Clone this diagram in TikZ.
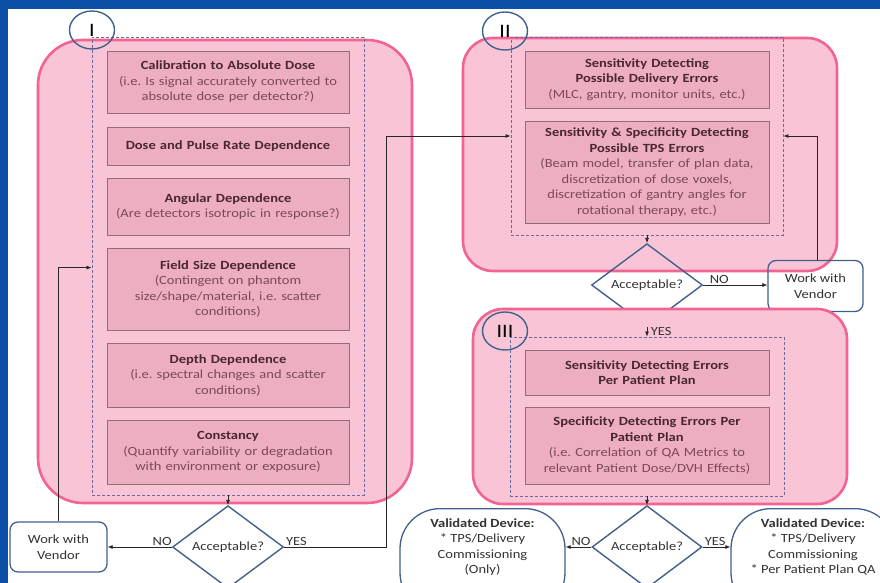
\documentclass[tikz,border=0pt]{standalone}
\usepackage{fontspec}
\setmainfont{Carlito}[FakeStretch=1.16]
\usetikzlibrary{shapes.geometric,arrows.meta,calc}
\definecolor{bgblue}{HTML}{0B4FA6}
\definecolor{pinkfill}{HTML}{F9C5D6}
\definecolor{pinkline}{HTML}{F2638F}
\definecolor{boxfill}{HTML}{EDAEC2}
\definecolor{boxline}{HTML}{8F6E76}
\definecolor{dashcol}{HTML}{6B6A9C}
\definecolor{navy}{HTML}{40608E}
\definecolor{titlecol}{HTML}{4A2730}
\definecolor{subcol}{HTML}{7B4A55}
\definecolor{txtgray}{HTML}{333333}
\tikzset{
  basefont/.style={font=\fontsize{12.5}{15.5}\selectfont},
  group/.style={draw=pinkline, line width=2.6pt, fill=pinkfill, inner sep=0pt},
  dashbox/.style={draw=dashcol, line width=0.9pt, dash pattern=on 3pt off 2pt, inner sep=0pt},
  innerbox/.style={draw=boxline, line width=0.8pt, fill=boxfill, inner sep=0pt,
    text width=236pt, align=center, basefont, text=subcol},
  roman/.style={draw=navy, line width=1.4pt, ellipse, inner sep=0pt,
    minimum width=45pt, minimum height=38pt, font=\fontsize{19}{19}\selectfont, text=black},
  decision/.style={draw=navy, line width=1.4pt, diamond, inner sep=0pt, basefont, text=txtgray},
  vendor/.style={draw=navy, line width=1.3pt, rounded corners=8pt, inner sep=0pt,
    align=center, basefont, text=txtgray},
  validbox/.style={draw=navy, line width=1.3pt, rounded corners=40pt, inner sep=0pt},
  validtext/.style={align=center, basefont, text=txtgray, inner sep=0pt},
  arr/.style={draw=black!85, line width=0.7pt, -{Latex[length=5pt,width=4pt]}},
  lbl/.style={basefont, text=txtgray, inner sep=1.5pt}
}
\newcommand{\ttl}[1]{\textbf{\color{titlecol}#1}}
\begin{document}
\frenchspacing
\begin{tikzpicture}[x=1pt,y=-1pt]
\useasboundingbox (0,0) rectangle (880,583);
\clip (0,0) rectangle (880,583);
\fill[bgblue] (0,0) rectangle (880,583);
\fill[white] (8,9) rectangle (880,583);

% ---------- Group I ----------
\node[group, rounded corners=45pt, minimum width=374pt, minimum height=463pt] (g1) at (225,271.5) {};
\node[dashbox, minimum width=272pt, minimum height=458pt] (dash1) at (228,266) {};
\node[innerbox, minimum width=242pt, minimum height=62pt] (b11) at (228,82)
  {\ttl{Calibration to Absolute Dose}\\(i.e. Is signal accurately converted to\\absolute dose per detector?)};
\node[innerbox, minimum width=242pt, minimum height=38pt] (b12) at (228,146)
  {\ttl{Dose and Pulse Rate Dependence}};
\node[innerbox, minimum width=242pt, minimum height=57pt] (b13) at (228,206.5)
  {\ttl{Angular Dependence}\\(Are detectors isotropic in response?)};
\node[innerbox, minimum width=242pt, minimum height=82pt] (b14) at (228,289)
  {\ttl{Field Size Dependence}\\(Contingent on phantom\\size/shape/material, i.e. scatter\\conditions)};
\node[innerbox, minimum width=242pt, minimum height=64pt] (b15) at (228,375)
  {\ttl{Depth Dependence}\\(i.e. spectral changes and scatter\\conditions)};
\node[innerbox, minimum width=242pt, minimum height=64pt] (b16) at (228,452)
  {\ttl{Constancy}\\(Quantify variability or degradation\\with environment or exposure)};
\node[roman] (c1) at (92,30) {\raisebox{-2pt}{I}};

\node[decision, minimum width=111pt, minimum height=63pt] (d1) at (228,547) {Acceptable?};
\node[vendor, minimum width=97pt, minimum height=50pt] (wv1) at (58.5,547) {Work with\\Vendor};

% ---------- Group II ----------
\node[group, rounded corners=30pt, minimum width=374pt, minimum height=233pt] (g2) at (650,154.5) {};
\node[dashbox, minimum width=272pt, minimum height=198pt] (dash2) at (647,136) {};
\node[innerbox, minimum width=244pt, minimum height=57pt] (b21) at (647,79.5)
  {\ttl{Sensitivity Detecting}\\\ttl{Possible Delivery Errors}\\(MLC, gantry, monitor units, etc.)};
\node[innerbox, minimum width=244pt, minimum height=102pt] (b22) at (647,172)
  {\ttl{Sensitivity \& Specificity Detecting}\\\ttl{Possible TPS Errors}\\(Beam model, transfer of plan data,\\discretization of dose voxels,\\discretization of gantry angles for\\rotational therapy, etc.)};
\node[roman] (c2) at (505,31) {\raisebox{-2pt}{II}};

\node[decision, minimum width=111pt, minimum height=62pt] (d2) at (647,285) {Acceptable?};
\node[vendor, minimum width=95pt, minimum height=51pt] (wv2) at (815.5,286) {Work with\\Vendor};

% ---------- Group III ----------
\node[group, rounded corners=30pt, minimum width=374pt, minimum height=195pt] (g3) at (660,406.5) {};
\node[dashbox, minimum width=274pt, minimum height=159pt] (dash3) at (647,416.5) {};
\node[innerbox, minimum width=244pt, minimum height=45pt] (b31) at (647,372.5)
  {\ttl{Sensitivity Detecting Errors}\\\ttl{Per Patient Plan}};
\node[innerbox, minimum width=244pt, minimum height=77pt] (b32) at (647,445.5)
  {\ttl{Specificity Detecting Errors Per}\\\ttl{Patient Plan}\\(i.e. Correlation of QA Metrics to\\relevant Patient Dose/DVH Effects)};
\node[roman] (c3) at (505,331) {\raisebox{-1pt}{III}};

\node[decision, minimum width=110pt, minimum height=62pt] (d3) at (647,547) {Acceptable?};
\node[validbox, minimum width=165pt, minimum height=104pt, anchor=north] (v1) at (482.5,508) {};
\node[validtext] (v1t) at (482.5,547)
  {\textbf{Validated Device:}\\* TPS/Delivery\\Commissioning\\(Only)};
\node[validbox, minimum width=164pt, minimum height=104pt, anchor=north] (v2) at (813,508) {};
\node[validtext] (v2t) at (813,547)
  {\textbf{Validated Device:}\\* TPS/Delivery\\Commissioning\\* Per Patient Plan QA};

% ---------- Connectors ----------
\draw[arr] (dash1.south) -- (d1.north);
\draw[arr] (d1.west) -- node[lbl, above, pos=0.15] {NO} (wv1.east);
\draw[arr] (wv1.north) |- ($(dash1.west |- b14.north)+(0,20)$);
\draw[arr] (d1.east) -- node[lbl, above, pos=0.12] {YES} ++(102,0) |- (dash2.west);

\draw[arr] (dash2.south) -- (d2.north);
\draw[arr] (d2.east) -- node[lbl, above, pos=0.25] {NO} (d2.east -| wv2.west);
\draw[arr] ([xshift=1.5pt]wv2.north) |- (dash2.east);
\draw[arr] (d2.south) -- node[lbl, right, xshift=2pt, pos=0.5] {YES} (dash3.north);

\draw[arr] (dash3.south) -- (d3.north);
\draw[arr] (d3.west) -- node[lbl, above, pos=0.4] {NO} (d3.west -| v1.east);
\draw[arr] (d3.east) -- node[lbl, above, pos=0.45] {YES} (d3.east -| v2.west);
\end{tikzpicture}
\end{document}
